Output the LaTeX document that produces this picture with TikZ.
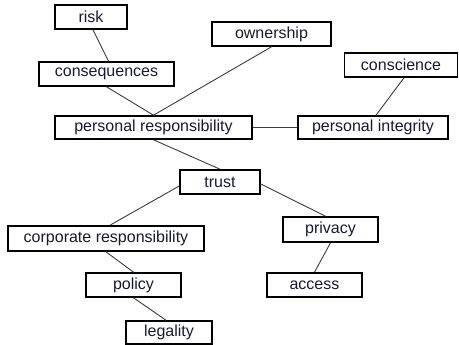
\documentclass[tikz,border=0pt]{standalone}
\usepackage{fontspec}
\setmainfont{Liberation Sans}
\definecolor{ink}{RGB}{25,25,55}
\definecolor{wire}{RGB}{60,60,60}
\tikzset{
  box/.style={draw=black,line width=1.6pt,fill=white,text=ink,inner sep=0pt,
    minimum height=24,font=\fontsize{16}{18}\selectfont},
  link/.style={draw=wire,line width=0.9pt}
}
\begin{document}
\begin{tikzpicture}[x=1pt,y=-1pt]
      \useasboundingbox (0,0) rectangle (459,345);
      % upper half
      \node[box,minimum width=72]  (risk)      at (91,17)      {risk};
      \node[box,minimum width=135] (conseq)    at (106.5,74)   {consequences};
      \node[box,minimum width=119] (ownership) at (271.5,34)   {ownership};
      \node[box,minimum width=113] (conscience) at (401,65)    {conscience};
      \node[box,minimum width=197,minimum height=23] (persresp) at (153.5,127.5) {personal responsibility};
      \node[box,minimum width=150,minimum height=23] (persint)  at (373,127.5)   {personal integrity};
      % lower half
      \node[box,minimum width=80]  (trust)     at (220,182)    {trust};
      \node[box,minimum width=196,minimum height=25] (corpresp) at (106,238.5) {corporate responsibility};
      \node[box,minimum width=95,minimum height=25]  (privacy)  at (330.5,229.5) {privacy};
      \node[box,minimum width=95]  (policy)    at (133.5,285)  {policy};
      \node[box,minimum width=95]  (access)    at (314.5,285)  {access};
      \node[box,minimum width=86,minimum height=23] (legality) at (169,332.5) {legality};
      % links
      \draw[link] ([xshift=2pt]risk.south) -- ([xshift=2pt]conseq.north);
      \draw[link] (conseq.south) -- (persresp.north);
      \draw[link] (ownership.south) -- (persresp.north);
      \draw[link] (persresp.east) -- (persint.west);
      \draw[link] ([xshift=3pt]conscience.south) -- ([xshift=3pt]persint.north);
      \draw[link] (persresp.south) -- (trust.north);
      \draw[link] ([yshift=-4pt]trust.west) -- ([xshift=4pt]corpresp.north);
      \draw[link] ([yshift=-2pt]trust.east) -- ([xshift=-5pt]privacy.north);
      \draw[link] (corpresp.south) -- (policy.north);
      \draw[link] (privacy.south) -- (access.north);
      \draw[link] (policy.south) -- ([xshift=-3pt]legality.north);
\end{tikzpicture}
\end{document}
